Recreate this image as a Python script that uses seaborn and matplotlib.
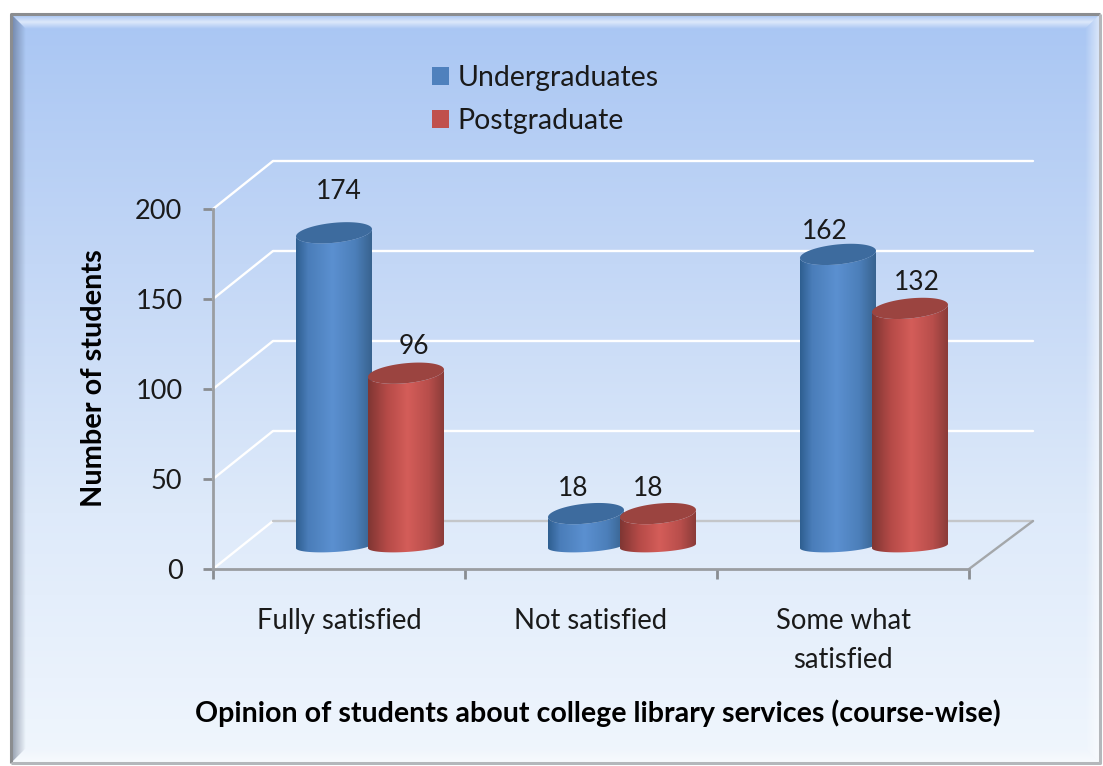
import numpy as np
import pandas as pd
import matplotlib
matplotlib.use("Agg")
import matplotlib.pyplot as plt
import matplotlib.transforms as mtransforms
from matplotlib.patches import Polygon, Rectangle
from matplotlib.colors import LinearSegmentedColormap
import seaborn as sns

categories = ["Fully satisfied", "Not satisfied", "Some what\nsatisfied"]
undergraduates = [174, 18, 162]
postgraduate = [96, 18, 132]
series_names = ["Undergraduates", "Postgraduate"]
y_ticks = [0, 50, 100, 150, 200]

sns.set_theme(style="white")
plt.rcParams["font.family"] = ["Lato", "DejaVu Sans"]

df = pd.DataFrame({
    "category": categories * 2,
    "value": undergraduates + postgraduate,
    "series": [series_names[0]] * 3 + [series_names[1]] * 3,
})

W, H = 1103, 766
fig = plt.figure(figsize=(W / 100, H / 100), dpi=100, facecolor="white")

# background panel with bevel
bg = fig.add_axes([0, 0, 1, 1], zorder=0)
L, R, T, B = 12, 1099, 15, 762
grad = LinearSegmentedColormap.from_list("bg", ["#a9c6f3", "#c3d7f6", "#deeafa", "#f0f6fd"])
bg.imshow(np.linspace(0, 1, 256).reshape(-1, 1), cmap=grad, aspect="auto", extent=(L, R, B, T))


def band(extent, rgb, alphas, poly, vertical):
    a = np.interp(np.linspace(0, 1, 64), np.linspace(0, 1, len(alphas)), alphas)
    arr = np.zeros((64, 1, 4)) if vertical else np.zeros((1, 64, 4))
    arr[..., :3] = rgb
    arr[..., 3] = a.reshape(arr.shape[:2])
    img = bg.imshow(arr, aspect="auto", extent=extent)
    p = Polygon(poly, transform=bg.transData, fc="none", ec="none")
    bg.add_patch(p)
    img.set_clip_path(p)


bw = 14
band((L, R, T + bw, T), (1, 1, 1), [0.0, 0.6, 0.0],
     [(L, T), (R, T), (R - bw, T + bw), (L + bw, T + bw)], True)
band((L, L + bw, B, T), (0.25, 0.3, 0.4), [0.5, 0.0],
     [(L, T), (L + bw, T + bw), (L + bw, B - bw), (L, B)], False)
band((R - bw, R, B, T), (1, 1, 1), [0.0, 0.55],
     [(R, T), (R - bw, T + bw), (R - bw, B - bw), (R, B)], False)
band((L, R, B, B - bw), (1, 1, 1), [0.0, 0.5],
     [(L, B), (L + bw, B - bw), (R - bw, B - bw), (R, B)], True)

bg.set_xlim(0, W); bg.set_ylim(H, 0); bg.axis("off")
bg.plot([L - 1.5, L - 1.5, R + 1], [B + 1, T - 1.5, T - 1.5], color="#8b8d90", lw=2.2, solid_capstyle="butt")
bg.plot([R + 1, R + 1, L - 1.5], [T - 1.5, B + 1, B + 1], color="#b4b7bb", lw=2.2, solid_capstyle="butt")

# plot axes
ax = fig.add_axes([213 / W, (H - 569) / H, (969 - 213) / W, (569 - 209) / H], zorder=1)
ax.patch.set_alpha(0)
sns.barplot(data=df, x="category", y="value", hue="series", width=148 / 252, gap=0,
            palette=["#4f81bd", "#c0504d"], legend=False, ax=ax, zorder=3)
ax.set_xlim(-0.5, 2.5)
ax.set_ylim(0, 200)
ax.autoscale(False)

px = 252.0           # pixels per category
py = 1.8             # pixels per unit
back_dx, back_dy = 60 / px, 48 / py

# walls / floor
grey_floor = "#c4c6c9"
for v in y_ticks:
    ax.plot([-0.5, -0.5 + back_dx], [v, v + back_dy], color="white", lw=1.7, clip_on=False, zorder=1)
    ax.plot([-0.5 + back_dx, 2.5 + back_dx + 4 / px], [v + back_dy] * 2,
            color=grey_floor if v == 0 else "white", lw=1.7, clip_on=False, zorder=1)
ax.plot([2.5, 2.5 + back_dx + 4 / px], [0, back_dy], color="#a4a7aa", lw=1.7, clip_on=False, zorder=1)

bar_tf = mtransforms.offset_copy(ax.transData, fig=fig, x=31, y=23, units="dots")

blue = LinearSegmentedColormap.from_list("b", [(0, "#2e5e90"), (0.16, "#4a7db9"), (0.48, "#5b90d0"),
                                               (0.78, "#4c7fba"), (1, "#38638f")])
red = LinearSegmentedColormap.from_list("r", [(0, "#7f3633"), (0.25, "#b54a47"), (0.52, "#d45d59"),
                                              (0.8, "#b84e4b"), (1, "#8a3c39")])
top_colors = ["#3d6b9e", "#9b4440"]
cmaps = [blue, red]
hgrad = np.linspace(0, 1, 256).reshape(1, -1)

top_h = 20 / py
bot_h = 12 / py
tilt = 0.095 * (252 / 1.8) * 1.0   # rise of the ellipses, data units per category width
grow = 2 / px
theta_low = np.linspace(np.pi, 2 * np.pi, 60)
theta_up = np.linspace(0, np.pi, 60)

all_bars = []
for s, container in enumerate(ax.containers):
    for patch in container:
        x0, w, h = patch.get_x(), patch.get_width(), patch.get_height()
        patch.set_visible(False)
        all_bars.append((x0, w, h, s))
        if s == 0:
            xl, xr = x0, x0 + w + grow
        else:
            xl, xr = x0 - grow, x0 + w
        xc, a = (xl + xr) / 2, (xr - xl) / 2
        low_x = xc + a * np.cos(theta_low)
        low_y = bot_h / 2 * np.sin(theta_low) + tilt * (low_x - xc) * 0.6
        top_x = xc + a * np.cos(theta_low)
        top_y = h + top_h / 2 * np.sin(theta_low) + tilt * (top_x - xc)
        body = np.column_stack([np.r_[low_x, top_x[::-1]], np.r_[low_y, top_y[::-1]]])
        clip = Polygon(body, transform=bar_tf, fc="none", ec="none")
        ax.add_patch(clip)
        img = ax.imshow(hgrad, cmap=cmaps[s], aspect="auto", interpolation="bilinear",
                        extent=(xl, xr, -bot_h, h + top_h), zorder=3 + s * 0.1)
        img.set_transform(bar_tf)
        img.set_clip_path(clip)
        up_x = xc + a * np.cos(theta_up)
        up_y = h + top_h / 2 * np.sin(theta_up) + tilt * (up_x - xc)
        cap = np.column_stack([np.r_[up_x, top_x], np.r_[up_y, top_y]])
        ax.add_patch(Polygon(cap, transform=bar_tf, fc=top_colors[s], ec="none",
                             zorder=3.05 + s * 0.1, clip_on=False))

ax.set_xlim(-0.5, 2.5)
ax.set_ylim(0, 200)

# value labels
label_nudge = [(6, 13), (-12, -3), (-12, -6), (7, -2), (-11, -3), (6, -3)]
for (x0, w, h, s), (nx, ny) in zip(all_bars, label_nudge):
    ax.annotate(f"{int(h)}", xy=(x0 + w / 2, h), xycoords=bar_tf, xytext=(nx, ny + 16),
                textcoords="offset pixels", ha="center", va="bottom", fontsize=19,
                color="#1a1a1a", zorder=6)

# axes styling
for sp in ["top", "right"]:
    ax.spines[sp].set_visible(False)
for sp in ["left", "bottom"]:
    ax.spines[sp].set_color("#9a9da1")
    ax.spines[sp].set_linewidth(2)
ax.set_yticks(y_ticks)
ax.set_xticks([0, 1, 2])
ax.set_xticklabels(categories, fontsize=19.8, color="#1a1a1a", linespacing=1.62)
ax.set_xticks([-0.5, 0.5, 1.5, 2.5], minor=True)
ax.tick_params(axis="x", which="major", length=0, pad=28)
ax.tick_params(axis="x", which="minor", length=7, width=2, color="#8a8d91", bottom=True)
ax.tick_params(axis="y", length=7, width=2, color="#8a8d91", left=True, labelsize=19.5, pad=15,
               labelcolor="#1a1a1a")
ax.set_ylabel("Number of students", fontsize=20.8, fontweight="bold", color="black")
ax.yaxis.set_label_coords((94 - 213) / 756, (569 - 378) / 360)
ax.yaxis.label.set_va("center")
ax.set_xlabel("Opinion of students about college library services (course-wise)",
              fontsize=20.6, fontweight="bold", color="black")
ax.xaxis.set_label_coords((598 - 213) / 756, (569 - 713) / 360)
ax.xaxis.label.set_va("center")

# legend
handles = [Rectangle((0, 0), 1, 1, fc="#4f81bd", ec="none"), Rectangle((0, 0), 1, 1, fc="#c0504d", ec="none")]
leg = fig.legend(handles, series_names, loc="center left", frameon=False,
                 bbox_to_anchor=(406 / W, (H - 99.5) / H), fontsize=20.4, handlelength=0.63,
                 handleheight=0.63, handletextpad=0.28, labelspacing=0.61, labelcolor="#1a1a1a")

fig.savefig("out.png", dpi=100)
